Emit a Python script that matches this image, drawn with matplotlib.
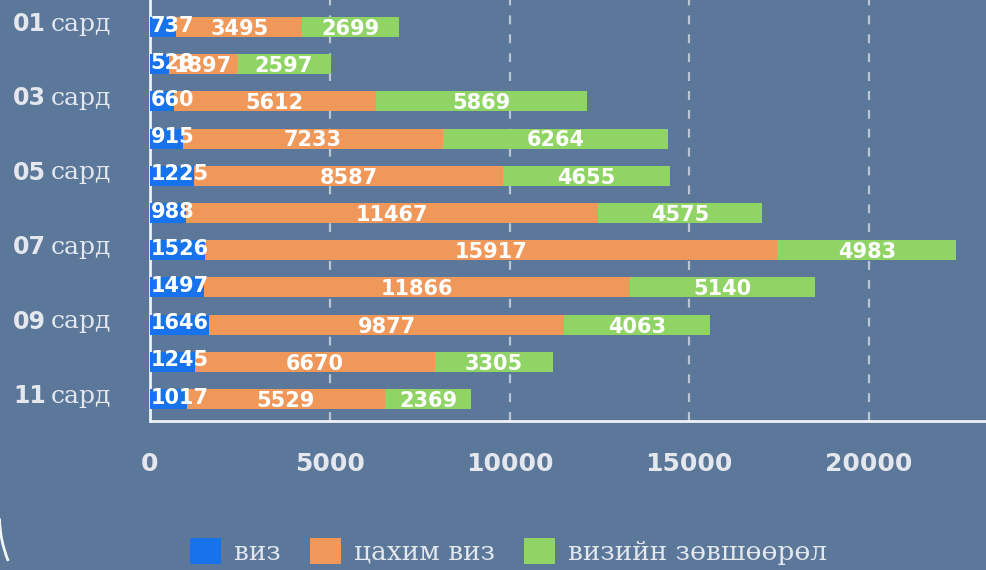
import numpy as np
import matplotlib
matplotlib.use('Agg')
import matplotlib.pyplot as plt
from matplotlib.patches import Patch, Arc

# monthly counts
months = ['01', '02', '03', '04', '05', '06', '07', '08', '09', '10', '11']
viz = [737, 528, 660, 915, 1225, 988, 1526, 1497, 1646, 1245, 1017]
e_viz = [3495, 1897, 5612, 7233, 8587, 11467, 15917, 11866, 9877, 6670, 5529]
permit = [2699, 2597, 5869, 6264, 4655, 4575, 4983, 5140, 4063, 3305, 2369]
series_names = ['виз', 'цахим виз', 'визийн зөвшөөрөл']
xticks = [0, 5000, 10000, 15000, 20000]

BG = '#5b7799'
COLORS = ['#1673ec', '#f0975a', '#90d466']
LIGHT = '#e4e8ee'

fig = plt.figure(figsize=(9.87, 5.70), dpi=100, facecolor=BG)
ax = fig.add_axes([150 / 987, 149 / 570, 837 / 987, 421 / 570])
ax.set_facecolor(BG)

y = np.arange(len(months))
h = 0.54
viz = np.array(viz)
e_viz = np.array(e_viz)
permit = np.array(permit)

ax.barh(y, viz, height=h, color=COLORS[0], zorder=3)
ax.barh(y, e_viz, left=viz, height=h, color=COLORS[1], zorder=3)
ax.barh(y, permit, left=viz + e_viz, height=h, color=COLORS[2], zorder=3)

lab = dict(color='white', fontsize=15, fontweight='bold', va='center', zorder=5)
for i in range(len(months)):
    ax.annotate(str(viz[i]), (0, y[i]), xytext=(0.5, 1), textcoords='offset points',
                ha='left', **lab)
    ax.text(viz[i] + e_viz[i] / 2, y[i] + 0.05, str(e_viz[i]), ha='center', **lab)
    ax.text(viz[i] + e_viz[i] + permit[i] / 2, y[i] + 0.05, str(permit[i]),
            ha='center', **lab)

ax.set_xlim(0, 23280)
ax.set_ylim(10.59, -0.726)
ax.set_xticks(xticks)
ax.set_xticklabels([str(t) for t in xticks])
ax.set_yticks([])
ax.tick_params(axis='x', length=0, pad=22, labelsize=18, labelcolor=LIGHT)
for t in ax.get_xticklabels():
    t.set_fontweight('bold')

ax.grid(axis='x', color='#b9c6d6', linestyle=(0, (4, 4.5)), linewidth=1.6, zorder=1)
for s in ['top', 'right']:
    ax.spines[s].set_visible(False)
for s in ['left', 'bottom']:
    ax.spines[s].set_color('#eef1f5')
    ax.spines[s].set_linewidth(2)

# month labels on odd rows
ytr = ax.get_yaxis_transform()
for i, m in enumerate(months):
    if i % 2 == 0:
        ax.text(-0.124, y[i] - 0.08, m, transform=ytr, ha='right', va='center',
                fontsize=17, fontweight='bold', color=LIGHT, clip_on=False)
        ax.text(-0.119, y[i] - 0.08, 'сард', transform=ytr, ha='left', va='center',
                fontsize=18, family='DejaVu Serif', color=LIGHT, clip_on=False)

handles = [Patch(facecolor=c) for c in COLORS]
fig.legend(handles, series_names, loc='center left', bbox_to_anchor=(190 / 987, 0.033),
           ncol=3, frameon=False, handlelength=1.17, handleheight=1.17,
           handletextpad=0.5, columnspacing=1.1, borderpad=0, borderaxespad=0,
           prop={'family': 'DejaVu Serif', 'size': 19}, labelcolor=LIGHT)

# rounded card corner
fig.add_artist(Arc((119.5 / 987, (570 - 516) / 570), 240 / 987, 240 / 570,
                   theta1=182, theta2=215, transform=fig.transFigure,
                   color='#f2f4f7', linewidth=2))

fig.savefig('out.png', dpi=100, facecolor=BG)
